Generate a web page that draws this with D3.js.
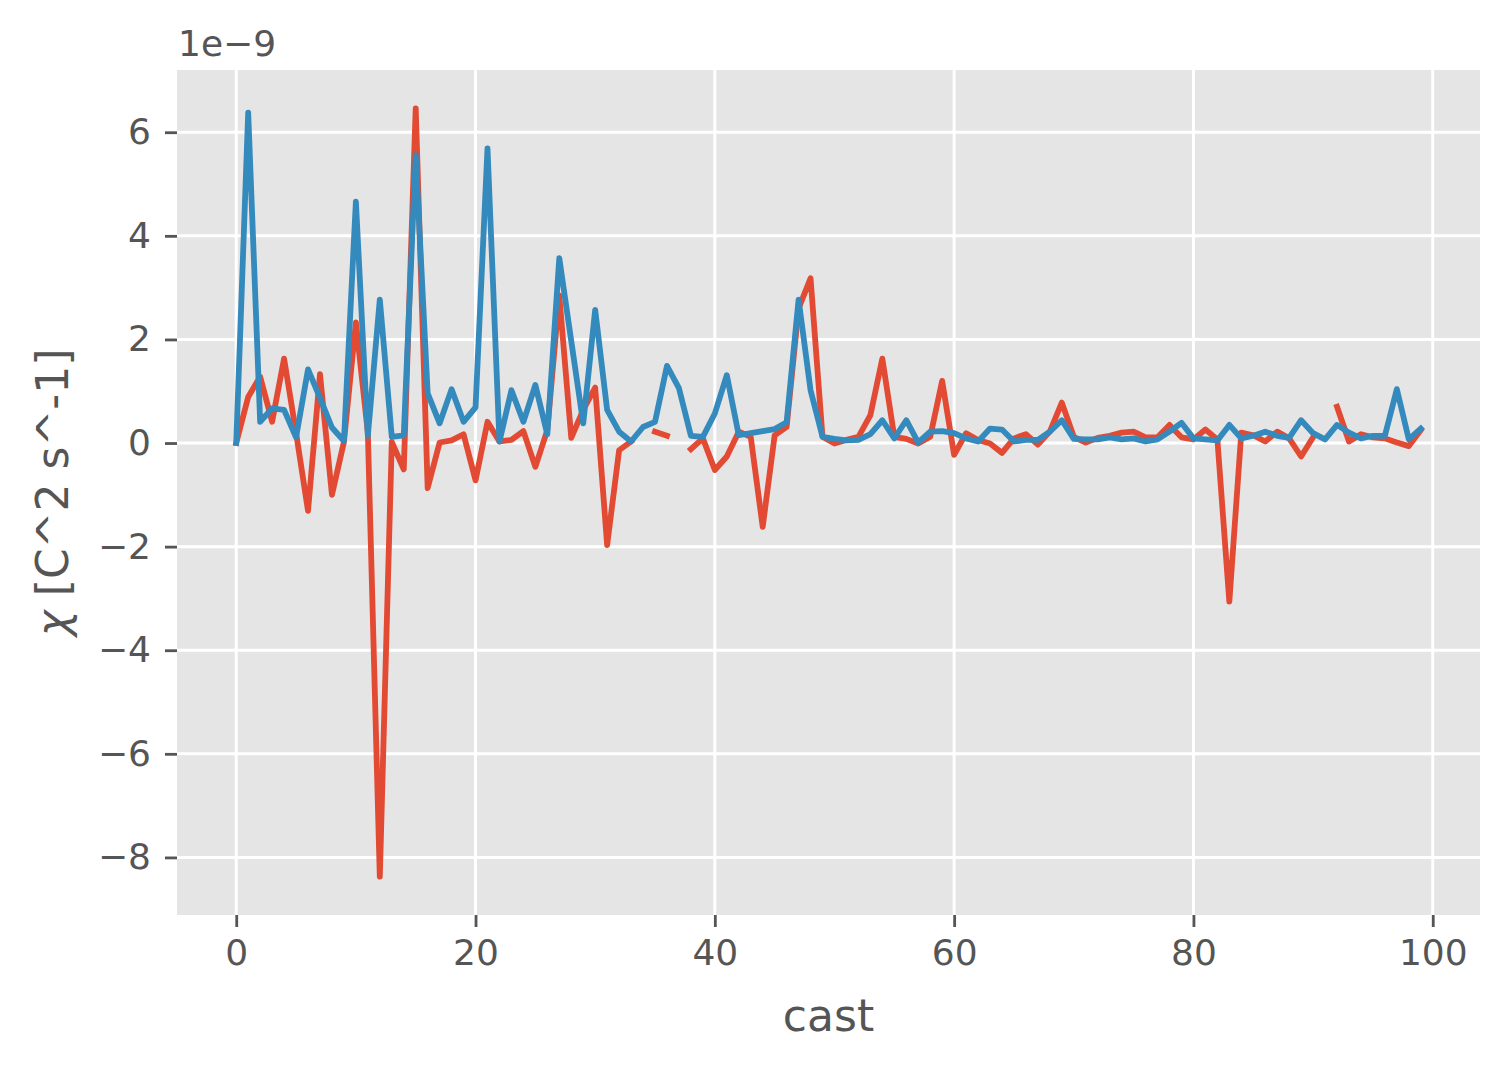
<!DOCTYPE html>
<html>
<head>
<meta charset="utf-8">
<script src="https://cdn.jsdelivr.net/npm/d3@7"></script>
<style>
  html, body { margin: 0; padding: 0; background: #ffffff; }
  svg { display: block; }
</style>
</head>
<body>
<script>
// ---- data (values in units of 1e-9) ----
const casts = d3.range(0, 100);
const seriesRed = [
  0, 0.89, 1.28, 0.41, 1.63, 0.2, -1.31, 1.33, -1.0, 0.02,
  2.33, 0.2, -8.37, 0.02, -0.51, 6.46, -0.87, 0.01, 0.05, 0.17,
  -0.72, 0.41, 0.03, 0.06, 0.23, -0.46, 0.25, 2.85, 0.1, 0.64,
  1.07, -1.97, -0.14, 0.03, null, 0.22, 0.14, null, -0.12, 0.09,
  -0.52, -0.26, 0.22, 0.12, -1.62, 0.15, 0.31, 2.6, 3.18, 0.12,
  -0.01, 0.06, 0.12, 0.54, 1.63, 0.12, 0.08, -0.01, 0.12, 1.2,
  -0.23, 0.19, 0.06, -0.01, -0.19, 0.09, 0.17, -0.03, 0.22, 0.78,
  0.12, 0.01, 0.1, 0.14, 0.2, 0.22, 0.11, 0.11, 0.35, 0.11,
  0.07, 0.26, 0.07, -3.06, 0.2, 0.15, 0.03, 0.22, 0.09, -0.26,
  0.11, null, 0.7, 0.03, 0.17, 0.11, 0.09, 0.01, -0.06, 0.25
];
const seriesBlue = [
  0, 6.38, 0.41, 0.67, 0.64, 0.11, 1.42, 0.87, 0.30, 0.04,
  4.66, 0.14, 2.77, 0.12, 0.15, 5.56, 0.96, 0.38, 1.04, 0.41,
  0.69, 5.69, 0.03, 1.02, 0.41, 1.12, 0.17, 3.57, 1.97, 0.38,
  2.57, 0.64, 0.22, 0.03, 0.31, 0.41, 1.49, 1.06, 0.14, 0.12,
  0.57, 1.31, 0.15, 0.19, 0.23, 0.27, 0.40, 2.77, 1.02, 0.12,
  0.08, 0.05, 0.06, 0.17, 0.44, 0.09, 0.44, 0.01, 0.22, 0.23,
  0.19, 0.09, 0.03, 0.28, 0.26, 0.03, 0.06, 0.06, 0.22, 0.44,
  0.08, 0.07, 0.07, 0.11, 0.07, 0.09, 0.03, 0.07, 0.22, 0.39,
  0.09, 0.07, 0.05, 0.35, 0.09, 0.14, 0.22, 0.14, 0.10, 0.44,
  0.19, 0.07, 0.35, 0.20, 0.09, 0.14, 0.14, 1.04, 0.07, 0.28
];
const xTicks = [0, 20, 40, 60, 80, 100];
const yTicks = [-8, -6, -4, -2, 0, 2, 4, 6];
const xLabel = "cast";
const offsetText = "1e\u22129";

// ---- layout ----
const W = 1507, H = 1069;
const plot = { left: 177, right: 1480, top: 70, bottom: 915 };
const colors = { bg: "#E5E5E5", grid: "#FFFFFF", red: "#E24A33", blue: "#348ABD", text: "#555555" };
const font = "DejaVu Sans, Liberation Sans, sans-serif";

const svg = d3.select("body").append("svg").attr("width", W).attr("height", H);

const xMin = d3.min(casts), xMax = d3.max(casts);
const xPad = (xMax - xMin) * 0.05;
const x = d3.scaleLinear().domain([xMin - xPad, xMax + xPad]).range([plot.left, plot.right]);

const allVals = seriesRed.concat(seriesBlue).filter(v => v != null);
const yMin = d3.min(allVals), yMax = d3.max(allVals);
const yPad = (yMax - yMin) * 0.05;
const y = d3.scaleLinear().domain([yMin - yPad, yMax + yPad]).range([plot.bottom, plot.top]);

// background
svg.append("rect").attr("x", plot.left).attr("y", plot.top)
  .attr("width", plot.right - plot.left).attr("height", plot.bottom - plot.top)
  .attr("fill", colors.bg);

// grid
const g = svg.append("g");
g.selectAll("line.vg").data(xTicks).enter().append("line")
  .attr("x1", d => x(d)).attr("x2", d => x(d))
  .attr("y1", plot.top).attr("y2", plot.bottom)
  .attr("stroke", colors.grid).attr("stroke-width", 3);
g.selectAll("line.hg").data(yTicks).enter().append("line")
  .attr("y1", d => y(d)).attr("y2", d => y(d))
  .attr("x1", plot.left).attr("x2", plot.right)
  .attr("stroke", colors.grid).attr("stroke-width", 3);

// axes
const fmt = d => (d < 0 ? "\u2212" + Math.abs(d) : String(d));
const xAxis = d3.axisBottom(x).tickValues(xTicks).tickFormat(fmt).tickSize(12).tickPadding(12);
const yAxis = d3.axisLeft(y).tickValues(yTicks).tickFormat(fmt).tickSize(12).tickPadding(14);

const gx = svg.append("g").attr("transform", `translate(0,${plot.bottom})`).call(xAxis);
const gy = svg.append("g").attr("transform", `translate(${plot.left},0)`).call(yAxis);
[gx, gy].forEach(a => {
  a.select(".domain").remove();
  a.selectAll(".tick line").attr("stroke", colors.text).attr("stroke-width", 2.8);
  a.selectAll(".tick text").attr("fill", colors.text)
    .style("font-family", font).style("font-size", "36px");
});

// lines
const line = d3.line()
  .defined(d => d.v != null)
  .x(d => x(d.c))
  .y(d => y(d.v));

const redData = casts.map((c, i) => ({ c, v: seriesRed[i] }));
const blueData = casts.map((c, i) => ({ c, v: seriesBlue[i] }));

svg.append("clipPath").attr("id", "clip").append("rect")
  .attr("x", plot.left).attr("y", plot.top)
  .attr("width", plot.right - plot.left).attr("height", plot.bottom - plot.top);

const lines = svg.append("g").attr("clip-path", "url(#clip)");
lines.append("path").datum(redData).attr("d", line)
  .attr("fill", "none").attr("stroke", colors.red).attr("stroke-width", 5.8)
  .attr("stroke-linejoin", "round").attr("stroke-linecap", "square");
lines.append("path").datum(blueData).attr("d", line)
  .attr("fill", "none").attr("stroke", colors.blue).attr("stroke-width", 5.8)
  .attr("stroke-linejoin", "round").attr("stroke-linecap", "square");

// labels
svg.append("text")
  .attr("x", (plot.left + plot.right) / 2).attr("y", 1031)
  .attr("text-anchor", "middle").attr("fill", colors.text)
  .style("font-family", font).style("font-size", "44px")
  .text(xLabel);

const yl = svg.append("text")
  .attr("transform", `translate(68,${(plot.top + plot.bottom) / 2}) rotate(-90)`)
  .attr("text-anchor", "middle").attr("fill", colors.text)
  .style("font-family", font).style("font-size", "44px");
yl.append("tspan").style("font-style", "italic").text("\u03C7");
yl.append("tspan").text(" [C^2 s^-1]");

svg.append("text")
  .attr("x", 178).attr("y", 56)
  .attr("fill", colors.text)
  .style("font-family", font).style("font-size", "36px")
  .text(offsetText);
</script>
</body>
</html>
